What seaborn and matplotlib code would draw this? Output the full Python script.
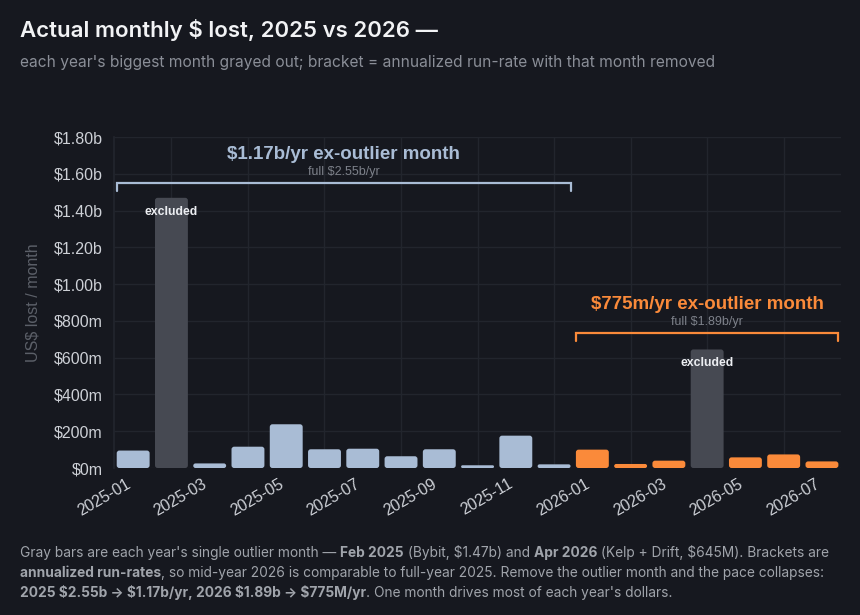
import matplotlib.pyplot as plt
import seaborn as sns
import pandas as pd
from matplotlib.ticker import FuncFormatter
from matplotlib.patches import FancyBboxPatch

# Monthly losses, US$ millions
months = ["2025-01", "2025-02", "2025-03", "2025-04", "2025-05", "2025-06",
          "2025-07", "2025-08", "2025-09", "2025-10", "2025-11", "2025-12",
          "2026-01", "2026-02", "2026-03", "2026-04", "2026-05", "2026-06", "2026-07"]
losses_m = [95, 1470, 25, 116, 238, 102, 105, 64, 102, 15, 176, 20,
            100, 22, 40, 645, 58, 74, 36]
groups = ["2025", "excluded", "2025", "2025", "2025", "2025", "2025", "2025", "2025",
          "2025", "2025", "2025", "2026", "2026", "2026", "excluded", "2026", "2026", "2026"]
tick_months = months[::2]

brackets = [
    # (first month, last month, bracket height $m, headline, sub)
    ("2025-01", "2025-12", 1550, "$1.17b/yr ex-outlier month", "full $2.55b/yr"),
    ("2026-01", "2026-07", 735, "$775m/yr ex-outlier month", "full $1.89b/yr"),
]

BG = "#16181f"
GRID = "#22252d"
BLUE = "#a9bcd5"
ORANGE = "#fa8a3a"
GREYBAR = "#464952"
palette = {"2025": BLUE, "2026": ORANGE, "excluded": GREYBAR}

df = pd.DataFrame({"month": months, "loss": losses_m, "group": groups})

sns.set_theme(style="dark")
plt.rcParams["font.family"] = ["Liberation Sans", "DejaVu Sans"]
plt.rcParams["text.parse_math"] = False

fig = plt.figure(figsize=(8.6, 6.15), dpi=100, facecolor=BG)
ax = fig.add_axes([0.1326, 0.239, 0.8454, 0.538])
ax.set_facecolor(BG)

sns.barplot(data=df, x="month", y="loss", hue="group", palette=palette,
            dodge=False, width=0.86, legend=False, ax=ax, saturation=1,
            edgecolor="none")

ax.set_xlim(-0.5, len(months) - 0.5)
ax.set_ylim(0, 1800)

# swap plain rectangles for slightly rounded ones
aspect = (1800 / 331) / (1 / 38.3)  # data-y per px / data-x per px
for p in list(ax.patches):
    x, y, w, h = p.get_x(), p.get_y(), p.get_width(), p.get_height()
    if h <= 0:
        continue
    r = min(0.07, h / aspect / 2)
    fb = FancyBboxPatch((x, y), w, h, boxstyle=f"round,pad=0,rounding_size={r}",
                        mutation_aspect=aspect, facecolor=p.get_facecolor(),
                        edgecolor="none", zorder=p.get_zorder())
    p.remove()
    ax.add_patch(fb)

ax.set_yticks(range(0, 1801, 200))
ax.yaxis.set_major_formatter(FuncFormatter(
    lambda v, p: f"${v / 1000:.2f}b" if v >= 1000 else f"${v:.0f}m"))

ax.set_xticks([months.index(m) for m in tick_months])
ax.set_xticklabels(tick_months, rotation=30, ha="right")
ax.set_xticks(range(1, len(months), 2), minor=True)
ax.tick_params(axis="both", which="both", length=0, colors="#cdd0d6", labelsize=11.5)
ax.tick_params(axis="x", pad=6)
ax.tick_params(axis="y", pad=8)

ax.grid(False)
ax.yaxis.grid(True, color=GRID, linewidth=1)
ax.xaxis.grid(True, which="minor", color=GRID, linewidth=1)
ax.set_axisbelow(True)
for s in ["top", "right", "bottom"]:
    ax.spines[s].set_visible(False)
ax.spines["left"].set_color(GRID)

ax.set_xlabel("")
ax.set_ylabel("US$ lost / month", color="#5c6069", fontsize=11.5, labelpad=10)

# "excluded" labels on the outlier bars
for i, (v, g) in enumerate(zip(losses_m, groups)):
    if g == "excluded":
        ax.text(i, v - 75, "excluded", ha="center", va="center", color="#eceef2",
                fontsize=8.8, fontweight="bold")

# brackets
for (m0, m1, h, head, sub), col in zip(brackets, [BLUE, ORANGE]):
    x0 = months.index(m0) - 0.43
    x1 = months.index(m1) + 0.43
    leg = h - 45
    ax.plot([x0, x0, x1, x1], [leg, h, h, leg], color=col, linewidth=1.6,
            solid_joinstyle="miter", clip_on=False)
    xc = (x0 + x1) / 2
    ax.text(xc, h + 62, sub, ha="center", va="center", color="#7d818a", fontsize=9)
    ax.text(xc, h + 155, head, ha="center", va="center", color=col,
            fontsize=13.5, fontweight="bold")

# title and subtitle
fig.text(20 / 860, 1 - 30 / 615, "Actual monthly $ lost, 2025 vs 2026 —", ha="left",
         va="center", color="#f2f3f5", fontsize=16, fontweight="semibold",
         family=["Inter", "DejaVu Sans"])
fig.text(20 / 860, 1 - 62 / 615,
         "each year's biggest month grayed out; bracket = annualized run-rate with that month removed",
         ha="left", va="center", color="#8a8e97", fontsize=11.2, family=["Inter", "DejaVu Sans"])

# footer with mixed bold text
footer = [
    [("Gray bars are each year's single outlier month — ", "normal"), ("Feb 2025", "bold"),
     (" (Bybit, $1.47b) and ", "normal"), ("Apr 2026", "bold"),
     (" (Kelp + Drift, $645M). Brackets are", "normal")],
    [("annualized run-rates", "bold"),
     (", so mid-year 2026 is comparable to full-year 2025. Remove the outlier month and the pace collapses:", "normal")],
    [("2025 $2.55b → $1.17b/yr, 2026 $1.89b → $775M/yr", "bold"),
     (". One month drives most of each year's dollars.", "normal")],
]
renderer = fig.canvas.get_renderer()
for li, line in enumerate(footer):
    x = 20
    y = 1 - (553 + li * 20) / 615
    for txt, w in line:
        t = fig.text(x / 860, y, txt, ha="left", va="center", color="#a0a4ab",
                     fontsize=9.9, fontweight=w, family=["Inter", "DejaVu Sans"])
        x += t.get_window_extent(renderer).width

fig.savefig("out.png", dpi=100, facecolor=BG)
